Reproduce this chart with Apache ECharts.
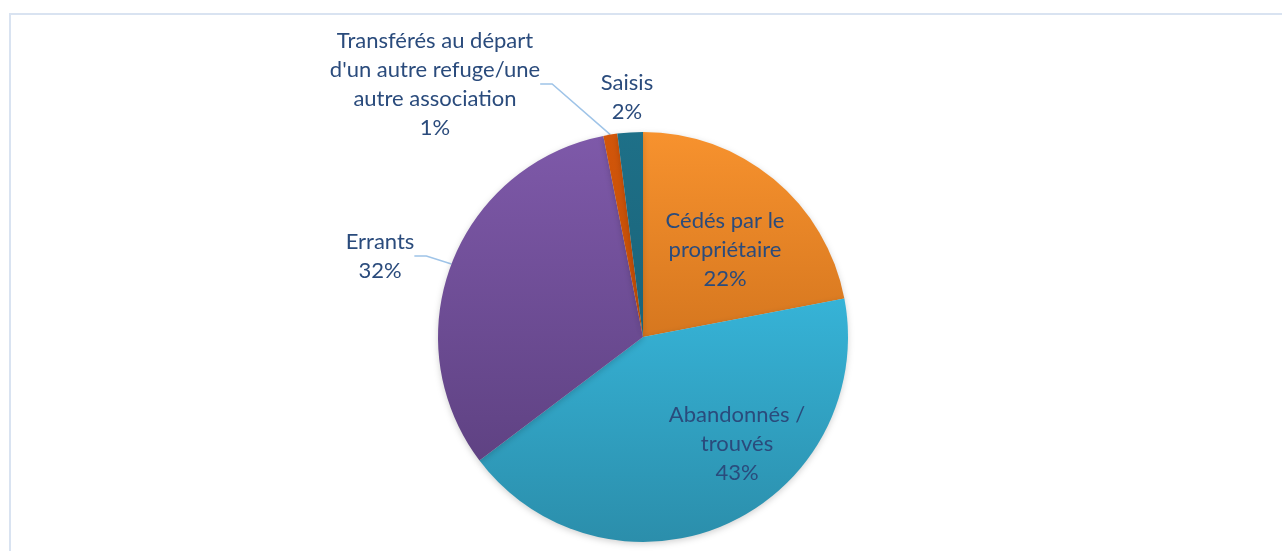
<!DOCTYPE html>
<html>
<head>
<meta charset="utf-8">
<script src="https://cdn.jsdelivr.net/npm/echarts@6/dist/echarts.min.js"></script>
<style>
html,body{margin:0;padding:0;background:#fff;}
#chart{width:1282px;height:551px;}
</style>
</head>
<body>
<div id="chart"></div>
<script>
// Data
const categories = ['Cédés par le\npropriétaire', 'Abandonnés /\ntrouvés', 'Errants', 'Transférés au départ\nd\'un autre refuge/une\nautre association', 'Saisis'];
const values = [22.0, 42.7, 32.2, 1.1, 2.0];

// Styles
const colorTop = ['#f7922e', '#36b3d7', '#7e59a9', '#d2560a', '#1e7088'];
const colorBottom = ['#d6771f', '#2b8eab', '#5f4283', '#c24d06', '#1a6379'];
const insideLabel = [true, true, false, false, false];
const showLine = [false, false, true, true, false];
const labelAnchor = [[725, 250], [737, 444], [380, 256], [435, 84], [627, 97]];

const chart = echarts.init(document.getElementById('chart'), null, {renderer: 'canvas'});

const data = categories.map((name, i) => ({
  name: name,
  value: values[i],
  itemStyle: {
    color: new echarts.graphic.LinearGradient(0, 0, 0, 1, [
      {offset: 0, color: colorTop[i]},
      {offset: 1, color: colorBottom[i]}
    ])
  },
  label: {position: insideLabel[i] ? 'inside' : 'outside'},
  labelLine: {show: showLine[i]}
}));

chart.setOption({
  animation: false,
  backgroundColor: '#ffffff',
  graphic: [{
    type: 'rect',
    shape: {x: 10, y: 14, width: 1400, height: 700},
    style: {fill: 'none', stroke: '#d9e3f1', lineWidth: 2},
    silent: true
  }],
  series: [{
    type: 'pie',
    center: [643, 337],
    radius: [0, 205],
    startAngle: 90,
    clockwise: true,
    data: data,
    itemStyle: {
      shadowBlur: 6,
      shadowColor: 'rgba(0,0,0,0.18)',
      shadowOffsetY: 2
    },
    label: {
      show: true,
      formatter: p => p.name + '\n' + Math.round(p.percent) + '%',
      fontFamily: 'Lato',
      fontSize: 22,
      lineHeight: 29,
      color: '#2a4b7c',
      align: 'center'
    },
    labelLine: {
      length: 12,
      length2: 12,
      lineStyle: {color: '#9fc4e8', width: 1.5}
    },
    labelLayout: function (params) {
      const a = labelAnchor[params.dataIndex];
      return {x: a[0], y: a[1], align: 'center', verticalAlign: 'middle'};
    }
  }]
});
</script>
</body>
</html>
